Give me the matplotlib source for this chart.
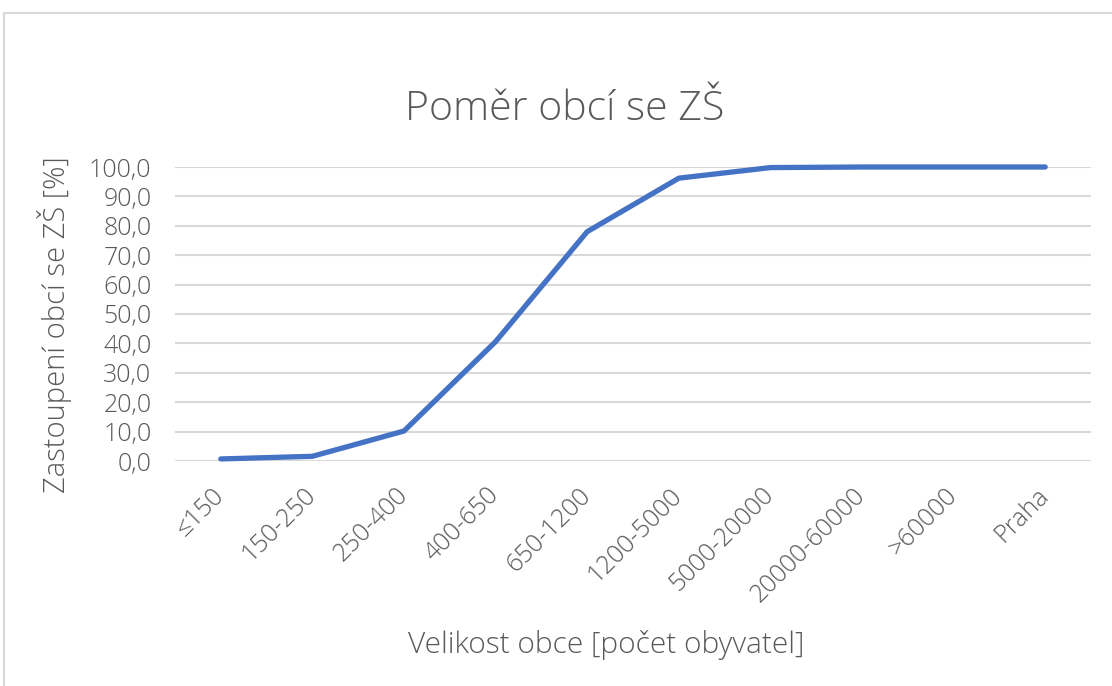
import matplotlib
matplotlib.use("Agg")
import matplotlib.pyplot as plt
from matplotlib.patches import Rectangle

categories = ["≤150", "150-250", "250-400", "400-650", "650-1200", "1200-5000",
              "5000-20000", "20000-60000", ">60000", "Praha"]
values = [0.7, 1.6, 10.2, 40.6, 78.0, 96.2, 99.8, 100.0, 100.0, 100.0]
yticks = [0, 10, 20, 30, 40, 50, 60, 70, 80, 90, 100]
ytick_labels = ["0,0", "10,0", "20,0", "30,0", "40,0", "50,0", "60,0", "70,0", "80,0", "90,0", "100,0"]

plt.rcParams['font.family'] = ['Open Sans', 'DejaVu Sans']
gray = "#595959"

fig = plt.figure(figsize=(11.12, 6.86), dpi=100)
W, H = 1112, 686
fig.patches.append(Rectangle((4 / W, -0.1), 1.2, 1 - 13 / H + 0.1, transform=fig.transFigure,
                             fill=False, edgecolor="#d9d9d9", linewidth=1.5))

ax = fig.add_axes([175 / W, 1 - 461 / H, (1091 - 175) / W, (461 - 167) / H])
x = list(range(len(categories)))
ax.plot(x, values, color="#4472C4", linewidth=3.8, solid_capstyle="round", clip_on=False, zorder=3)
ax.set_xlim(-0.5, len(categories) - 0.5)
ax.set_ylim(0, 100)
ax.set_yticks(yticks)
ax.set_yticklabels(ytick_labels)
ax.set_xticks(x)
ax.set_xticklabels(categories, rotation=45, ha="right", va="center", rotation_mode="anchor")
for s in ax.spines.values():
    s.set_visible(False)
ax.grid(axis="y", color="#d9d9d9", linewidth=1.5)
ax.set_axisbelow(True)
ax.tick_params(axis="both", length=0, labelsize=18, colors=gray)
ax.tick_params(axis="y", pad=17)
ax.tick_params(axis="x", pad=22)
for lab in ax.get_xticklabels() + ax.get_yticklabels():
    lab.set_fontweight("light")

fig.text(565 / W, 1 - 110 / H, "Poměr obcí se ZŠ", fontsize=29.5, color=gray,
         ha="center", va="center", fontweight="light")
fig.text(55 / W, 1 - 325 / H, "Zastoupení obcí se ZŠ [%]", fontsize=21, color=gray,
         ha="center", va="center", rotation=90, fontweight="light")
fig.text(606 / W, 1 - 645 / H, "Velikost obce [počet obyvatel]", fontsize=21.5, color=gray,
         ha="center", va="center", fontweight="light")

fig.savefig("out.png", dpi=100, facecolor="white")
